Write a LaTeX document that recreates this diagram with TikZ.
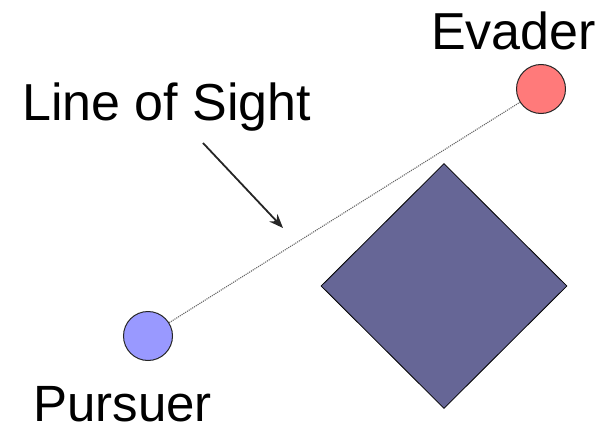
\documentclass[tikz,border=0pt]{standalone}
\usepackage{fontspec}
\setmainfont{Liberation Sans}
\usetikzlibrary{calc, positioning, arrows.meta, shapes.geometric}

\begin{document}
\begin{tikzpicture}[x=1pt,y=-1pt]
  \tikzset{agent/.style={circle,draw=black!85,line width=1pt,minimum size=49pt,inner sep=0},
    label text/.style={anchor=base west,inner sep=0,text depth=0pt,font=\fontsize{52}{60}\selectfont}}
  \useasboundingbox (0,0) rectangle (613,428);
  \node[agent,fill={rgb,255:red,255;green,122;blue,122}] (evader) at (541,89) {};
  \node[agent,fill={rgb,255:red,153;green,153;blue,255}] (pursuer) at (148,336) {};
  \node[diamond,draw=black,line width=0.8pt,fill={rgb,255:red,102;green,102;blue,150},
    minimum width=246pt,minimum height=245pt,inner sep=0] (obstacle) at (444,286) {};
  \node[label text] (evaderlbl) at (431,50) {Evader};
  \node[label text] (loslbl) at (22,120) {Line of Sight};
  \node[label text,font=\fontsize{51}{60}\selectfont] (pursuerlbl) at (33,421) {Pursuer};
  \coordinate (arrowtail) at (203,143);
  \coordinate (arrowhead) at (283,228);
  \draw [black!60,line width=1.1pt,densely dotted] (pursuer) -- (evader);
  \draw [-{Stealth[length=14pt,width=11pt]},line width=1.8pt,black!85] (arrowtail) -- (arrowhead);
\end{tikzpicture}
\end{document}
